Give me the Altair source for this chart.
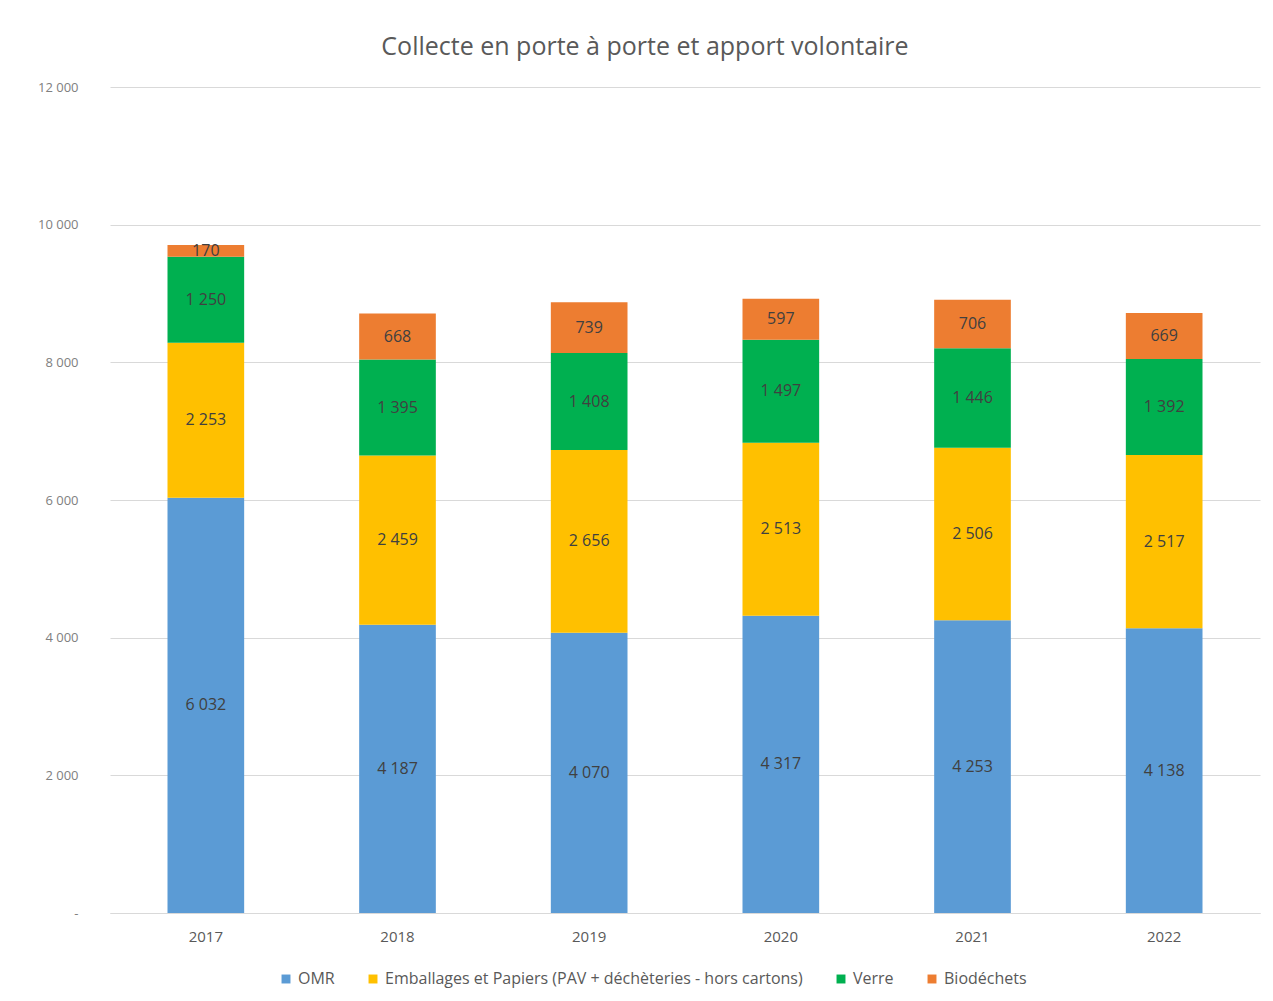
import altair as alt
import pandas as pd

years = ["2017", "2018", "2019", "2020", "2021", "2022"]
series = ["OMR", "Emballages et Papiers (PAV + déchèteries - hors cartons)", "Verre", "Biodéchets"]
colors = ["#5B9BD5", "#FFC000", "#00B050", "#ED7D31"]
omr = [6032, 4187, 4070, 4317, 4253, 4138]
emb = [2253, 2459, 2656, 2513, 2506, 2517]
verre = [1250, 1395, 1408, 1497, 1446, 1392]
bio = [170, 668, 739, 597, 706, 669]

rows = []
for i, y in enumerate(years):
    for k, (s, vals) in enumerate(zip(series, [omr, emb, verre, bio])):
        rows.append({"year": y, "serie": s, "value": vals[i], "order": k})
df = pd.DataFrame(rows)

base = alt.Chart(df).encode(
    x=alt.X("year:N", title=None, sort=years,
            scale=alt.Scale(paddingInner=0.6, paddingOuter=0.3),
            axis=alt.Axis(labelAngle=0, labelFontSize=15, labelColor="#595959",
                          labelFont="Open Sans", domainColor="#d9d9d9", ticks=False,
                          labelPadding=16)),
)

bars = base.mark_bar().encode(
    y=alt.Y("value:Q", stack="zero", title=None,
            scale=alt.Scale(domain=[0, 12000]),
            axis=alt.Axis(values=[0, 2000, 4000, 6000, 8000, 10000, 12000],
                          labelExpr="datum.value == 0 ? '-' : replace(format(datum.value, ','), ',', ' ')",
                          labelFontSize=13, labelColor="#808080", labelFont="Open Sans",
                          domain=False, ticks=False, labelPadding=32,
                          gridColor="#d9d9d9")),
    color=alt.Color("serie:N", sort=series,
                    scale=alt.Scale(domain=series, range=colors),
                    legend=alt.Legend(title=None, orient="none", direction="horizontal",
                                      legendX=168, legendY=884, symbolType="square",
                                      symbolSize=80, labelFontSize=16, labelColor="#595959",
                                      labelFont="Open Sans", columnPadding=30, labelLimit=0,
                                      symbolStrokeWidth=0)),
    order=alt.Order("order:Q"),
)

labels = base.transform_stack(
    stack="value", groupby=["year"], as_=["v0", "v1"],
    sort=[alt.SortField("order", order="ascending")]
).transform_calculate(
    mid="(datum.v0 + datum.v1) / 2",
    lab="replace(format(datum.value, ','), ',', ' ')"
).mark_text(fontSize=16, color="#404040", font="Open Sans").encode(
    y=alt.Y("mid:Q"),
    text=alt.Text("lab:N"),
)

chart = (bars + labels).properties(
    width=1150, height=826,
    title=alt.TitleParams("Collecte en porte à porte et apport volontaire",
                          fontSize=25, font="Open Sans", fontWeight="normal",
                          color="#595959", anchor="middle", dx=-40, offset=21),
    autosize=alt.AutoSizeParams(type="none"),
    padding={"left": 102, "top": 79, "right": 5, "bottom": 80},
).configure_view(stroke=None)

chart.save("out.html", embed_options={"renderer": "svg", "actions": False})
